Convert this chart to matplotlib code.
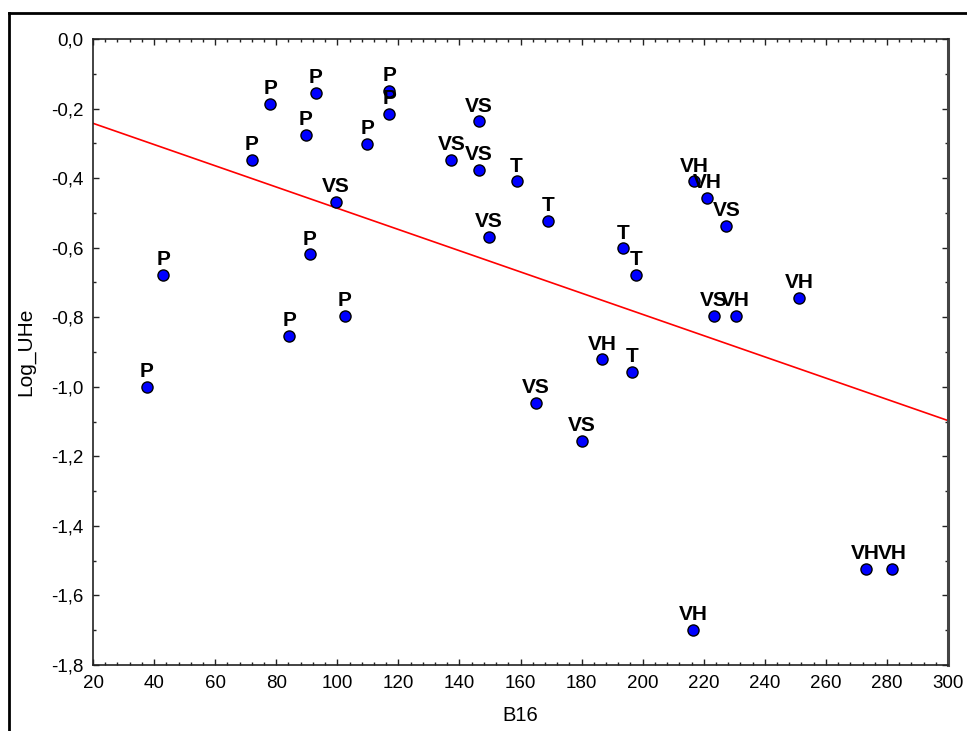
import numpy as np
import matplotlib
matplotlib.use("Agg")
import matplotlib.pyplot as plt
from matplotlib.ticker import MultipleLocator, FuncFormatter
from matplotlib.lines import Line2D

plt.rcParams['font.family'] = ['Liberation Sans', 'DejaVu Sans']

# B16 values, Log_UHe values and group labels
b16 = [37.6, 43.0, 72.0, 78.0, 84.3, 89.7, 91.0, 93.0, 102.4, 109.8, 117.0, 117.0,
       99.6, 137.4, 146.5, 146.5, 149.7, 165.1, 180.0, 223.3, 227.4,
       158.7, 169.1, 193.7, 196.4, 197.8,
       186.7, 216.6, 216.9, 221.2, 230.5, 251.3, 273.0, 281.6]
log_uhe = [-1.000, -0.679, -0.347, -0.187, -0.854, -0.275, -0.619, -0.154, -0.796, -0.301, -0.149, -0.215,
           -0.469, -0.347, -0.237, -0.377, -0.569, -1.047, -1.156, -0.796, -0.538,
           -0.409, -0.522, -0.602, -0.958, -0.679,
           -0.921, -1.700, -0.409, -0.456, -0.796, -0.744, -1.524, -1.524]
groups = ['P'] * 12 + ['VS'] * 9 + ['T'] * 5 + ['VH'] * 8

x = np.array(b16)
y = np.array(log_uhe)
slope, intercept = np.polyfit(x, y, 1)

fig = plt.figure(figsize=(9.67, 7.31), dpi=100)
ax = fig.add_axes([93 / 967, 1 - 665 / 731, (948 - 93) / 967, (665 - 39) / 731])

xl = np.array([20, 300])
ax.plot(xl, intercept + slope * xl, color='red', lw=1.2, zorder=2)

ax.plot(x, y, 'o', ms=8, mfc='#0000ff', mec='black', mew=1.0, zorder=3)
for xi, yi, g in zip(x, y, groups):
    ax.annotate(g, (xi, yi), xytext=(0, 7), textcoords='offset points',
                ha='center', va='baseline', fontsize=15, fontweight='bold', zorder=4)

ax.set_xlim(20, 300)
ax.set_ylim(-1.8, 0.0)
ax.xaxis.set_major_locator(MultipleLocator(20))
ax.xaxis.set_minor_locator(MultipleLocator(4))
ax.yaxis.set_major_locator(MultipleLocator(0.2))
ax.yaxis.set_minor_locator(MultipleLocator(0.1))
ax.yaxis.set_major_formatter(FuncFormatter(lambda v, p: f"{v:.1f}".replace('.', ',')))
ax.tick_params(which='both', direction='in', top=True, right=True, labelsize=13.5, color='#222222')
ax.tick_params(which='major', length=4, width=1)
ax.tick_params(which='minor', length=2, width=1)
ax.tick_params(axis='x', pad=7)
ax.tick_params(axis='y', pad=7)

for s in ax.spines.values():
    s.set_linewidth(1.2)
    s.set_color('#222222')
ax.spines['right'].set_linewidth(2.2)
ax.spines['right'].set_color('#444444')

ax.set_xlabel('B16', fontsize=14.5, labelpad=10)
ax.set_ylabel('Log_UHe', fontsize=15, labelpad=11)

# outer frame
fig.add_artist(Line2D([8.5 / 967, 8.5 / 967], [0, 1 - 12.5 / 731], transform=fig.transFigure, color='black', lw=2))
fig.add_artist(Line2D([8.5 / 967, 1], [1 - 12.5 / 731, 1 - 12.5 / 731], transform=fig.transFigure, color='black', lw=2))

fig.savefig('out.png', dpi=100)
